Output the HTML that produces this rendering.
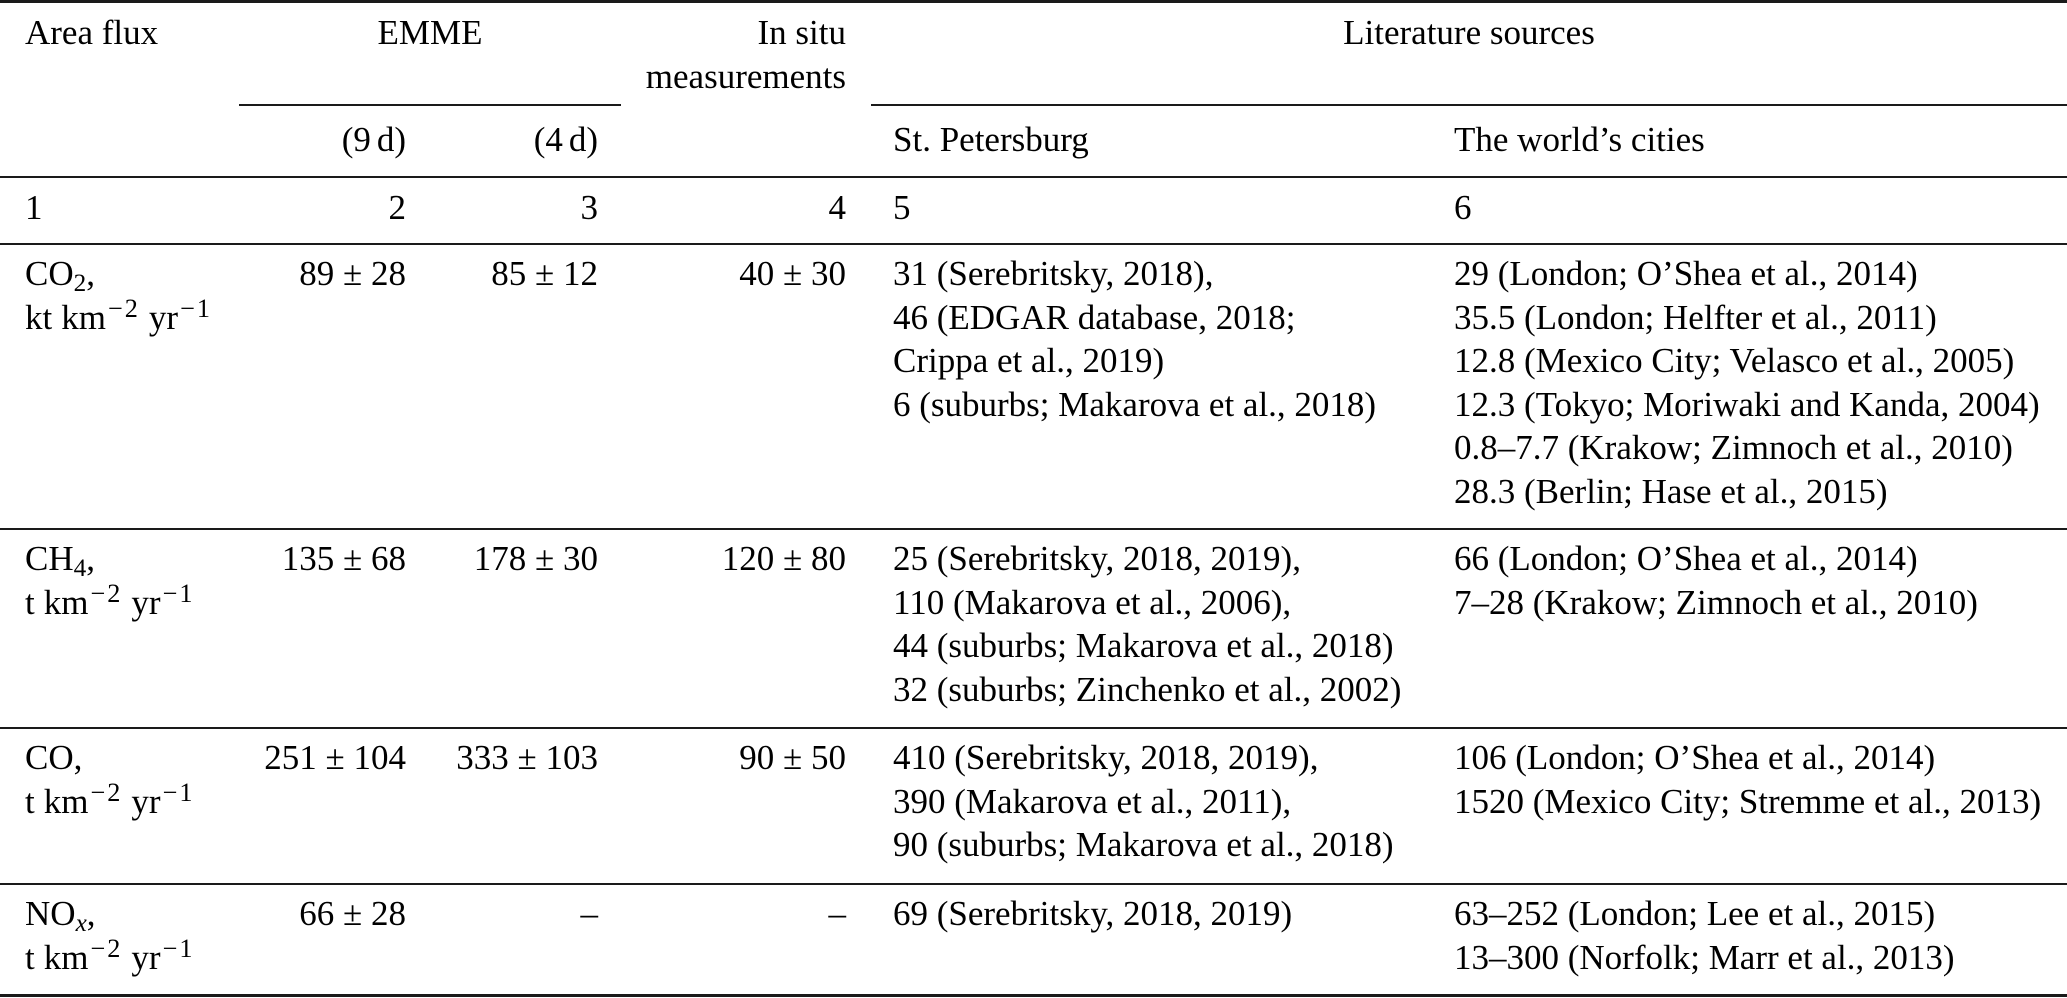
<!DOCTYPE html>
<html>
<head>
<meta charset="utf-8">
<style>
  html, body { margin:0; padding:0; background:#fff; }
  #c { position:relative; width:2067px; height:998px; overflow:hidden; background:#fff;
       font-family:"Liberation Serif", "Times New Roman", serif; color:#000; }
  .t { position:absolute; font-size:35px; line-height:43.6px; white-space:nowrap; }
  .r { text-align:right; }
  .ctr { text-align:center; }
  .rule { position:absolute; background:#1a1a1a; }
  .sup { position:relative; top:-0.45em; font-size:0.75em; line-height:0; letter-spacing:2px; padding-left:2px; }
  .sub { position:relative; top:0.22em; font-size:0.72em; line-height:0; }
  .ts { display:inline-block; width:9px; }
  .ts2 { display:inline-block; width:6px; }
</style>
</head>
<body>
<div id="c">
  <!-- rules -->
  <div class="rule" style="left:0;top:0;width:2067px;height:3px;"></div>
  <div class="rule" style="left:239px;top:104px;width:382px;height:2px;"></div>
  <div class="rule" style="left:871px;top:104px;width:1196px;height:2px;"></div>
  <div class="rule" style="left:0;top:176px;width:2067px;height:2px;"></div>
  <div class="rule" style="left:0;top:243px;width:2067px;height:2px;"></div>
  <div class="rule" style="left:0;top:528px;width:2067px;height:2px;"></div>
  <div class="rule" style="left:0;top:727px;width:2067px;height:2px;"></div>
  <div class="rule" style="left:0;top:883px;width:2067px;height:2px;"></div>
  <div class="rule" style="left:0;top:994px;width:2067px;height:3px;"></div>

  <!-- header row 1 -->
  <div class="t" style="left:25px;top:11px;">Area flux</div>
  <div class="t ctr" style="left:330px;width:200px;top:11px;">EMME</div>
  <div class="t r" style="right:1221px;top:11px;">In situ<br>measurements</div>
  <div class="t ctr" style="left:1269px;width:400px;top:11px;">Literature sources</div>

  <!-- header row 2 -->
  <div class="t r" style="right:1661px;top:118px;">(9<span class="ts2"></span>d)</div>
  <div class="t r" style="right:1469px;top:118px;">(4<span class="ts2"></span>d)</div>
  <div class="t" style="left:893px;top:118px;">St. Petersburg</div>
  <div class="t" style="left:1454px;top:118px;">The world’s cities</div>

  <!-- number row -->
  <div class="t" style="left:25px;top:186px;">1</div>
  <div class="t r" style="right:1661px;top:186px;">2</div>
  <div class="t r" style="right:1469px;top:186px;">3</div>
  <div class="t r" style="right:1221px;top:186px;">4</div>
  <div class="t" style="left:893px;top:186px;">5</div>
  <div class="t" style="left:1454px;top:186px;">6</div>

  <!-- CO2 row -->
  <div class="t" style="left:25px;top:252px;">CO<span class="sub">2</span>,<br>kt<span class="ts"></span>km<span class="sup">−2</span><span class="ts"></span>yr<span class="sup">−1</span></div>
  <div class="t r" style="right:1661px;top:252px;">89 ± 28</div>
  <div class="t r" style="right:1469px;top:252px;">85 ± 12</div>
  <div class="t r" style="right:1221px;top:252px;">40 ± 30</div>
  <div class="t" style="left:893px;top:252px;">31 (Serebritsky, 2018),<br>46 (EDGAR database, 2018;<br>Crippa et al., 2019)<br>6 (suburbs; Makarova et al., 2018)</div>
  <div class="t" style="left:1454px;top:252px;">29 (London; O’Shea et al., 2014)<br>35.5 (London; Helfter et al., 2011)<br>12.8 (Mexico City; Velasco et al., 2005)<br>12.3 (Tokyo; Moriwaki and Kanda, 2004)<br>0.8–7.7 (Krakow; Zimnoch et al., 2010)<br>28.3 (Berlin; Hase et al., 2015)</div>

  <!-- CH4 row -->
  <div class="t" style="left:25px;top:537px;">CH<span class="sub">4</span>,<br>t<span class="ts"></span>km<span class="sup">−2</span><span class="ts"></span>yr<span class="sup">−1</span></div>
  <div class="t r" style="right:1661px;top:537px;">135 ± 68</div>
  <div class="t r" style="right:1469px;top:537px;">178 ± 30</div>
  <div class="t r" style="right:1221px;top:537px;">120 ± 80</div>
  <div class="t" style="left:893px;top:537px;">25 (Serebritsky, 2018, 2019),<br>110 (Makarova et al., 2006),<br>44 (suburbs; Makarova et al., 2018)<br>32 (suburbs; Zinchenko et al., 2002)</div>
  <div class="t" style="left:1454px;top:537px;">66 (London; O’Shea et al., 2014)<br>7–28 (Krakow; Zimnoch et al., 2010)</div>

  <!-- CO row -->
  <div class="t" style="left:25px;top:736px;">CO,<br>t<span class="ts"></span>km<span class="sup">−2</span><span class="ts"></span>yr<span class="sup">−1</span></div>
  <div class="t r" style="right:1661px;top:736px;">251 ± 104</div>
  <div class="t r" style="right:1469px;top:736px;">333 ± 103</div>
  <div class="t r" style="right:1221px;top:736px;">90 ± 50</div>
  <div class="t" style="left:893px;top:736px;">410 (Serebritsky, 2018, 2019),<br>390 (Makarova et al., 2011),<br>90 (suburbs; Makarova et al., 2018)</div>
  <div class="t" style="left:1454px;top:736px;">106 (London; O’Shea et al., 2014)<br>1520 (Mexico City; Stremme et al., 2013)</div>

  <!-- NOx row -->
  <div class="t" style="left:25px;top:892px;">NO<span class="sub"><i>x</i></span>,<br>t<span class="ts"></span>km<span class="sup">−2</span><span class="ts"></span>yr<span class="sup">−1</span></div>
  <div class="t r" style="right:1661px;top:892px;">66 ± 28</div>
  <div class="t r" style="right:1469px;top:892px;">–</div>
  <div class="t r" style="right:1221px;top:892px;">–</div>
  <div class="t" style="left:893px;top:892px;">69 (Serebritsky, 2018, 2019)</div>
  <div class="t" style="left:1454px;top:892px;">63–252 (London; Lee et al., 2015)<br>13–300 (Norfolk; Marr et al., 2013)</div>
</div>
</body>
</html>
